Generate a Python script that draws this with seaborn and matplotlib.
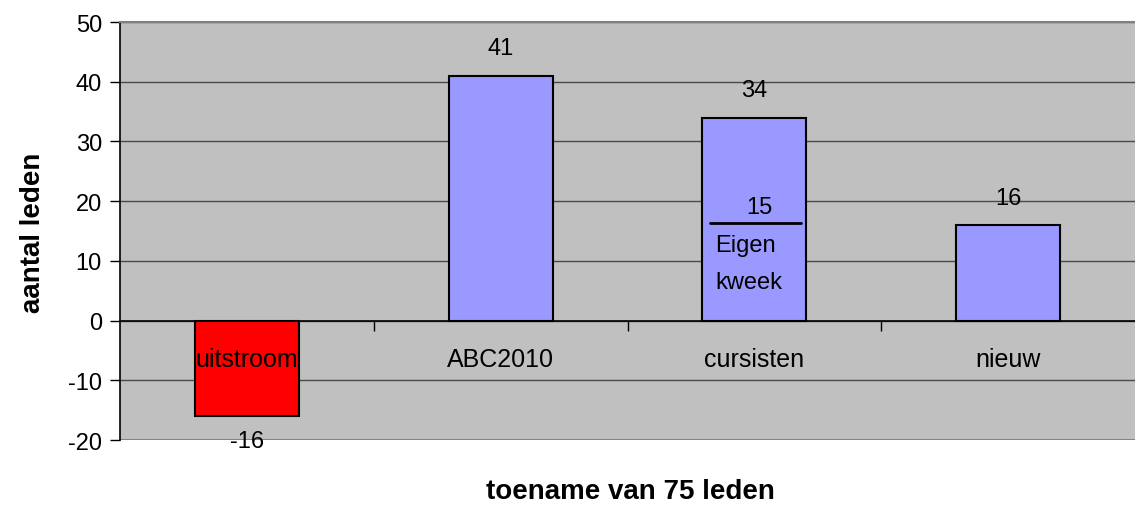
import matplotlib

matplotlib.use("Agg")

import matplotlib.pyplot as plt
import seaborn as sns
import pandas as pd
from matplotlib.ticker import FixedLocator

# --- data ---
categories = ["uitstroom", "ABC2010", "cursisten", "nieuw"]
values = [-16, 41, 34, 16]
bar_colors = ["#FF0000", "#9999FF", "#9999FF", "#9999FF"]
eigen_kweek = 15  # part of "cursisten" that came from own training
y_ticks = [-20, -10, 0, 10, 20, 30, 40, 50]

sns.set_theme(style="white")
plt.rcParams["font.family"] = ["Liberation Sans", "DejaVu Sans"]
plt.rcParams["axes.unicode_minus"] = False
plt.rcParams["text.color"] = "black"
plt.rcParams["xtick.color"] = "black"
plt.rcParams["ytick.color"] = "black"

df = pd.DataFrame({"categorie": categories, "leden": values})

fig = plt.figure(figsize=(11.35, 5.06), dpi=100)
W, H = 1135, 506
ax = fig.add_axes([120 / W, (H - 441) / H, 1 - 120 / W, (441 - 23) / H])
ax.set_facecolor("#C0C0C0")

sns.barplot(
    data=df,
    x="categorie",
    y="leden",
    hue="categorie",
    palette=dict(zip(categories, bar_colors)),
    saturation=1,
    edgecolor="black",
    linewidth=1.5,
    width=0.41,
    legend=False,
    ax=ax,
    zorder=3,
)

ax.set_ylim(y_ticks[0], y_ticks[-1])
ax.set_xlim(-0.5, len(categories) - 0.5)
ax.set_yticks(y_ticks)
ax.yaxis.grid(True, color="#4a4a4a", linewidth=1)
ax.set_axisbelow(True)

# spines: black y axis, x axis drawn through zero
ax.spines["top"].set_color("#808080")
ax.spines["top"].set_linewidth(1.5)
ax.spines["right"].set_visible(False)
ax.spines["left"].set_color("black")
ax.spines["left"].set_linewidth(1.2)
ax.spines["bottom"].set_position(("data", 0))
ax.spines["bottom"].set_color("black")
ax.spines["bottom"].set_linewidth(1.2)
ax.axhline(y_ticks[0], color="#808080", linewidth=2, zorder=1)

ax.tick_params(axis="y", direction="out", length=7, width=1,
               labelsize=17, pad=6, left=True)
ax.set_xticks(range(len(categories)))
ax.set_xticklabels([])
ax.tick_params(axis="x", which="major", length=0)
ax.xaxis.set_minor_locator(FixedLocator([0.5, 1.5, 2.5]))
ax.tick_params(axis="x", which="minor", direction="out", length=7,
               width=1, bottom=True)
ax.set_xlabel("")
ax.set_ylabel("")

# category labels sit just below the zero line, in front of the bars
for i, cat in enumerate(categories):
    ax.annotate(cat, xy=(i, 0), xytext=(0, -28), textcoords="offset points",
                ha="center", va="center", fontsize=18, zorder=6)

# value labels
for i, v in enumerate(values):
    off = 4.6 if v > 0 else -4.2
    ax.text(i, v + off, f"{v}", ha="center", va="center", fontsize=17,
            clip_on=False, zorder=5)

# eigen kweek annotation inside the cursisten bar
ci = categories.index("cursisten")
ax.plot([ci - 0.173, ci + 0.185], [eigen_kweek + 1.3, eigen_kweek + 1.3],
        color="black", linewidth=2, zorder=4)
ax.text(ci + 0.02, eigen_kweek + 4.1, f"{eigen_kweek}", ha="center",
        va="center", fontsize=17, zorder=5)
ax.text(ci - 0.155, eigen_kweek - 2.3, "Eigen", ha="left", va="center",
        fontsize=17, zorder=5)
ax.text(ci - 0.155, eigen_kweek - 8.6, "kweek", ha="left", va="center",
        fontsize=17, zorder=5)

fig.text(630 / W, 1 - 492 / H, "toename van 75 leden", ha="center",
         va="center", fontsize=20, fontweight="bold")
fig.text(33 / W, 1 - 233 / H, "aantal leden", ha="center", va="center",
         rotation=90, fontsize=20, fontweight="bold")

fig.savefig("out.png", dpi=100)
plt.close("all")
